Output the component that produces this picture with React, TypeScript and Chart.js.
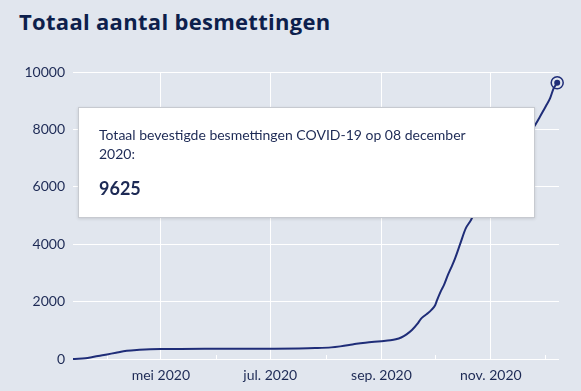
import React, { useEffect, useRef } from "react";
import { Chart, registerables } from "chart.js";

Chart.register(...registerables);

const START = "2020-03-13";
const AXIS_END = "2020-12-09";

const dates = [
  "2020-03-13", "2020-03-16", "2020-03-20", "2020-03-24", "2020-03-28",
  "2020-04-01", "2020-04-06", "2020-04-12", "2020-04-19", "2020-04-25",
  "2020-05-01", "2020-05-12", "2020-06-01", "2020-06-21", "2020-07-01",
  "2020-07-17", "2020-07-26", "2020-08-04", "2020-08-09", "2020-08-14",
  "2020-08-18", "2020-08-23", "2020-08-28", "2020-09-01", "2020-09-06",
  "2020-09-09", "2020-09-12", "2020-09-15", "2020-09-18", "2020-09-21",
  "2020-09-23", "2020-09-25", "2020-09-27", "2020-09-29", "2020-10-01",
  "2020-10-02", "2020-10-04", "2020-10-06", "2020-10-08", "2020-10-10",
  "2020-10-12", "2020-10-15", "2020-10-18", "2020-10-21", "2020-10-25",
  "2020-10-29", "2020-11-03", "2020-11-08", "2020-11-13", "2020-11-18",
  "2020-11-22", "2020-11-25", "2020-11-28", "2020-11-30", "2020-12-02",
  "2020-12-04", "2020-12-06", "2020-12-07", "2020-12-08",
];

const totals = [
  1, 5, 25, 70, 115,
  160, 220, 285, 320, 340,
  348, 352, 355, 358, 360,
  368, 380, 405, 440, 487,
  530, 570, 600, 620, 650,
  685, 750, 860, 1010, 1220,
  1400, 1510, 1600, 1720, 1880,
  2050, 2350, 2600, 2920, 3200,
  3500, 4030, 4550, 4850, 5400,
  5900, 6500, 6950, 7350, 7700,
  7900, 8090, 8400, 8620, 8850,
  9080, 9430, 9530, 9625,
];

const monthTicks = [
  "2020-04-01", "2020-05-01", "2020-06-01", "2020-07-01", "2020-08-01",
  "2020-09-01", "2020-10-01", "2020-11-01", "2020-12-01",
];
const monthLabels = ["", "mei 2020", "", "jul. 2020", "", "sep. 2020", "", "nov. 2020", ""];
const yTicks = [0, 2000, 4000, 6000, 8000, 10000];

const TITLE = "Totaal aantal besmettingen";
const TIP_LINE_1 = "Totaal bevestigde besmettingen COVID-19 op 08 december";
const TIP_LINE_2 = "2020:";
const TIP_VALUE = "9625";

const BG = "#e1e6ee";
const NAVY = "#1f2d78";
const TEXT = "#1d2a55";
const TITLE_COLOR = "#0d1f4c";

const dayIndex = (s: string) =>
  (Date.parse(s + "T00:00:00Z") - Date.parse(START + "T00:00:00Z")) / 86400000;

const minorTicksPlugin = {
  id: "minorTicks",
  beforeDatasetsDraw(chart: any) {
    const xs = chart.scales.x;
    const area = chart.chartArea;
    const ctx = chart.ctx;
    ctx.save();
    ctx.strokeStyle = "#ffffff";
    ctx.lineWidth = 1;
    monthTicks.forEach((d, i) => {
      if (monthLabels[i]) return;
      const px = Math.round(xs.getPixelForValue(dayIndex(d))) + 0.5;
      ctx.beginPath();
      ctx.moveTo(px, area.bottom);
      ctx.lineTo(px, area.bottom - 4);
      ctx.stroke();
    });
    ctx.restore();
  },
};

export default function App() {
  const ref = useRef<HTMLCanvasElement | null>(null);

  useEffect(() => {
    if (!ref.current) return;
    const points = dates.map((d, i) => ({ x: dayIndex(d), y: totals[i] }));
    const last = points.length - 1;
    const chart = new Chart(ref.current, {
      type: "line",
      data: {
        datasets: [
          {
            data: points,
            borderColor: NAVY,
            borderWidth: 2,
            pointRadius: (c: any) => (c.dataIndex === last ? 3 : 0),
            pointBackgroundColor: NAVY,
            pointBorderWidth: 0,
            cubicInterpolationMode: "monotone",
            clip: false,
            order: 0,
          } as any,
          {
            data: [points[last]],
            showLine: false,
            pointRadius: 6,
            pointBackgroundColor: BG,
            pointBorderColor: NAVY,
            pointBorderWidth: 1.5,
            clip: false,
            order: 1,
          } as any,
        ],
      },
      options: {
        animation: false,
        responsive: false,
        events: [],
        layout: { padding: { top: 72, right: 22, bottom: 0, left: 0 } },
        plugins: { legend: { display: false }, tooltip: { enabled: false } },
        scales: {
          x: {
            type: "linear",
            min: 0,
            max: dayIndex(AXIS_END),
            afterBuildTicks: (s: any) => {
              s.ticks = monthTicks.map((d) => ({ value: dayIndex(d) }));
            },
            afterFit: (s: any) => {
              s.height = 32;
            },
            grid: {
              color: (c: any) => (monthLabels[c.index] ? "#ffffff" : "rgba(0,0,0,0)"),
              drawTicks: false,
              lineWidth: 1,
            },
            border: { display: false },
            ticks: {
              autoSkip: false,
              maxRotation: 0,
              padding: 8,
              color: TEXT,
              font: { family: "Lato", size: 14 },
              callback: (_v: any, i: number) => monthLabels[i],
            },
          },
          y: {
            min: 0,
            max: 10000,
            afterBuildTicks: (s: any) => {
              s.ticks = yTicks.map((v) => ({ value: v }));
            },
            afterFit: (s: any) => {
              s.width = 73;
            },
            grid: { color: "#ffffff", drawTicks: false, lineWidth: 1 },
            border: { display: false },
            ticks: {
              padding: 8,
              color: TEXT,
              font: { family: "Lato", size: 14 },
              callback: (v: any) => String(v),
            },
          },
        },
      },
      plugins: [minorTicksPlugin],
    } as any);
    return () => chart.destroy();
  }, []);

  return (
    <div
      style={{
        position: "fixed",
        left: 0,
        top: 0,
        width: 581,
        height: 391,
        background: BG,
        overflow: "hidden",
      }}
    >
      <div
        style={{
          position: "absolute",
          left: 19,
          top: 10,
          fontFamily: "'Open Sans', sans-serif",
          fontWeight: 700,
          fontSize: 22,
          letterSpacing: "0.3px",
          lineHeight: "22px",
          color: TITLE_COLOR,
          whiteSpace: "nowrap",
        }}
      >
        {TITLE}
      </div>
      <canvas
        ref={ref}
        width={581}
        height={391}
        style={{ position: "absolute", left: 0, top: 0, width: 581, height: 391 }}
      />
      <div
        style={{
          position: "absolute",
          left: 78,
          top: 107,
          width: 457,
          height: 111,
          boxSizing: "border-box",
          background: "#ffffff",
          border: "1px solid #c7cad0",
          boxShadow: "0 1px 3px rgba(0,0,0,0.12)",
          padding: "17px 20px",
          fontFamily: "Lato, sans-serif",
          color: TEXT,
        }}
      >
        <div style={{ fontSize: 14, lineHeight: "19px", whiteSpace: "nowrap" }}>
          {TIP_LINE_1}
          <br />
          {TIP_LINE_2}
        </div>
        <div style={{ fontSize: 18, fontWeight: 700, lineHeight: "22px", marginTop: 14 }}>
          {TIP_VALUE}
        </div>
      </div>
    </div>
  );
}
